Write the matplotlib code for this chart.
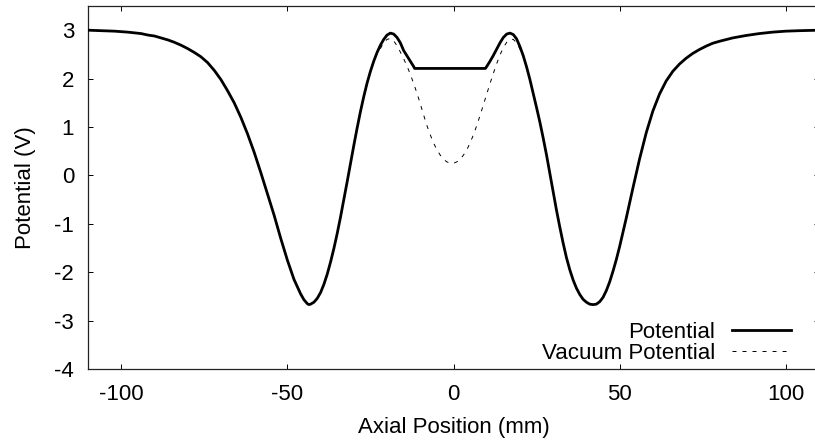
import matplotlib
matplotlib.use("Agg")
import matplotlib.pyplot as plt

# values: axial position (mm) -> potential (V)
# outer parts, where both curves coincide
left_x = [-110, -106, -102, -98, -94, -92, -90, -88, -86, -84, -82, -80, -78,
          -76, -74, -72, -70, -68, -66, -64, -62, -60, -58, -56, -54, -52,
          -50, -48, -46, -45, -44, -43.5, -43, -42, -41, -40, -39, -38, -37,
          -36, -35, -34, -33, -32, -31, -30, -29, -28, -27, -26, -25, -24, -23]
left_v = [3.00, 2.99, 2.98, 2.96, 2.93, 2.90, 2.88, 2.84, 2.80, 2.75, 2.69,
          2.62, 2.54, 2.45, 2.33, 2.17, 1.98, 1.75, 1.50, 1.20, 0.86, 0.48,
          0.06, -0.38, -0.82, -1.30, -1.75, -2.15, -2.45, -2.57, -2.65, -2.67,
          -2.66, -2.62, -2.54, -2.42, -2.25, -2.04, -1.79, -1.51, -1.20,
          -0.86, -0.50, -0.13, 0.25, 0.62, 0.98, 1.32, 1.63, 1.91, 2.15, 2.36,
          2.54]
right_x = [23, 24, 25, 26, 27, 28, 29, 30, 31, 32, 33, 34, 35, 36, 37, 38, 39,
           40, 41, 42, 43, 44, 45, 46, 47, 48, 49, 50, 52, 54, 56, 58, 60, 62,
           64, 66, 68, 70, 72, 74, 76, 78, 80, 84, 88, 92, 96, 100, 104, 110]
right_v = [1.98, 1.69, 1.40, 1.10, 0.77, 0.42, 0.04, -0.33, -0.72, -1.07,
           -1.40, -1.70, -1.95, -2.16, -2.33, -2.46, -2.56, -2.62, -2.66,
           -2.67, -2.66, -2.61, -2.52, -2.38, -2.20, -1.98, -1.74, -1.47,
           -0.88, -0.26, 0.34, 0.88, 1.33, 1.68, 1.95, 2.15, 2.30, 2.42, 2.52,
           2.60, 2.67, 2.73, 2.77, 2.84, 2.89, 2.93, 2.96, 2.98, 2.99, 3.00]

# centre: potential with the flat part, and vacuum potential
pot_mid_x = [-22, -21, -20, -19, -18, -17, -16, -15, -14, -13, -12, -11.7,
             9.6, 10, 11, 12, 13, 14, 15, 16, 17, 18, 19, 20, 21, 22]
pot_mid_v = [2.69, 2.81, 2.90, 2.94, 2.92, 2.85, 2.74, 2.58, 2.47, 2.36, 2.25,
             2.21, 2.21, 2.25, 2.36, 2.48, 2.61, 2.74, 2.85, 2.92, 2.94, 2.91,
             2.82, 2.66, 2.47, 2.24]
vac_mid_x = [-22, -21, -20, -19, -18, -17, -16, -15, -14, -13, -12, -11, -10,
             -9, -8, -7, -6, -5, -4, -3, -2, -1, 0, 1, 2, 3, 4, 5, 6, 7, 8, 9,
             10, 11, 12, 13, 14, 15, 16, 17, 18, 19, 20, 21, 22]
vac_mid_v = [2.62, 2.74, 2.81, 2.83, 2.78, 2.68, 2.55, 2.41, 2.26, 2.09, 1.90,
             1.70, 1.48, 1.25, 1.03, 0.84, 0.67, 0.53, 0.42, 0.33, 0.28, 0.25,
             0.25, 0.28, 0.33, 0.42, 0.53, 0.67, 0.84, 1.03, 1.24, 1.46, 1.68,
             1.90, 2.11, 2.31, 2.49, 2.64, 2.75, 2.81, 2.81, 2.74, 2.61, 2.45,
             2.24]

x_ticks = [-100, -50, 0, 50, 100]
y_ticks = [-4, -3, -2, -1, 0, 1, 2, 3]

pot_x = left_x + pot_mid_x + right_x
pot_v = left_v + pot_mid_v + right_v
vac_x = left_x + vac_mid_x + right_x
vac_v = left_v + vac_mid_v + right_v

plt.rcParams['font.family'] = ['Liberation Sans', 'DejaVu Sans']
plt.rcParams['axes.unicode_minus'] = False
fs = 16

fig = plt.figure(figsize=(8.15, 4.4), dpi=100)
# right edge of the frame falls just outside the picture, as in the reference
ax = fig.add_axes([88 / 815, 1 - 369 / 440, (819 - 88) / 815, (369 - 6) / 440])

ax.plot(vac_x, vac_v, color='black', lw=0.7, linestyle=(0, (4.1, 6.2)),
        label='Vacuum Potential', zorder=2)
ax.plot(pot_x, pot_v, color='black', lw=2.0, label='Potential', zorder=3,
        solid_joinstyle='round')

ax.set_xlim(-110, 110)
ax.set_ylim(-4, 3.5)
ax.set_xticks(x_ticks)
ax.set_yticks(y_ticks)
ax.tick_params(direction='in', length=3.6, width=0.7, top=True, right=True,
               labelsize=fs, colors='black')
ax.tick_params(axis='x', pad=11)
ax.tick_params(axis='y', pad=10)
for s in ax.spines.values():
    s.set_linewidth(0.9)
    s.set_color('#222222')

ax.set_xlabel('Axial Position (mm)', fontsize=fs, labelpad=8.5)
ax.set_ylabel('Potential (V)', fontsize=fs, labelpad=13)

h, l = ax.get_legend_handles_labels()
leg = ax.legend(h[::-1], l[::-1], loc='lower right',
                bbox_to_anchor=(791 / 815, 1 - 364 / 440),
                bbox_transform=fig.transFigure, frameon=False,
                markerfirst=False, fontsize=fs, handlelength=2.66,
                handletextpad=0.77, labelspacing=0.0, borderpad=0,
                borderaxespad=0)

fig.savefig('out.png', dpi=100)
